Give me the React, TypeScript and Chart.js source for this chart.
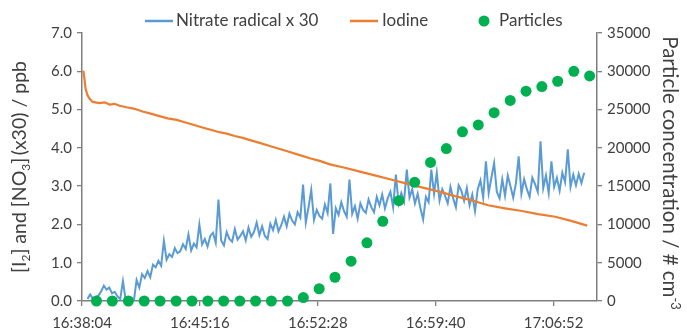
import React, { useEffect, useRef } from "react";
import { Chart, registerables } from "chart.js";

Chart.register(...registerables);

// Time axis: seconds after 16:38:04
const clockStart = 16 * 3600 + 38 * 60 + 4;
const xTickValues = [0, 432, 864, 1296, 1728]; // every 7 min 12 s
const xAxisMax = 1887;

// Nitrate radical x 30 (ppb), sampled every 10 s from t = 20 s
const nitrateStart = 20;
const nitrateStep = 10;
const nitrateValues = [
  0.05, 0.17, 0.06, 0.10, 0.14, 0.25, 0.40, 0.30, 0.35, 0.20,
  0.24, 0.12, 0.05, 0.52, 0.02, 0.00, 0.03, 0.00, 0.55, 0.35,
  0.70, 0.60, 0.78, 0.62, 0.95, 0.88, 1.05, 0.92, 1.57, 1.08,
  1.22, 1.15, 1.38, 1.25, 1.30, 1.48, 1.36, 1.74, 1.32, 1.50,
  1.40, 2.00, 1.48, 1.62, 1.42, 1.70, 1.78, 1.52, 2.65, 1.58,
  1.45, 1.80, 1.62, 1.55, 1.88, 1.60, 1.70, 1.82, 1.58, 1.92,
  1.68, 1.80, 2.05, 1.72, 1.95, 1.70, 1.62, 2.02, 1.85, 2.12,
  1.82, 1.98, 2.20, 1.95, 2.28, 2.10, 2.00, 2.32, 2.18, 3.04,
  2.05, 2.45, 2.90, 2.12, 2.38, 2.22, 2.15, 2.52, 2.30, 3.07,
  1.75, 2.42, 2.25, 2.58, 2.35, 2.20, 3.17, 2.28, 2.48, 2.15,
  2.55, 2.38, 2.30, 2.65, 2.45, 2.32, 2.72, 2.50, 2.78, 2.42,
  2.68, 2.85, 2.45, 3.30, 2.55, 2.82, 2.60, 3.43, 2.70, 2.92,
  2.55, 2.80, 2.42, 2.13, 2.72, 2.58, 3.43, 2.80, 3.35, 2.62,
  2.92, 2.75, 2.55, 2.98, 2.68, 2.45, 3.02, 2.88, 2.62, 2.95,
  2.50, 2.78, 2.35, 2.92, 3.15, 2.70, 3.65, 2.82, 3.22, 3.60,
  2.85, 2.68, 3.18, 2.75, 3.28, 3.00, 2.70, 3.08, 3.78, 2.80,
  3.18, 2.92, 2.72, 3.22, 3.05, 2.85, 4.17, 2.95, 3.28, 2.82,
  3.65, 2.98, 3.22, 2.88, 3.35, 3.10, 3.96, 2.98, 3.30, 3.02,
  3.32, 3.08, 3.35,
];

// Iodine (ppb)
const iodineTimes = [
  5, 9, 13, 20, 28, 39, 64, 83, 101, 119, 138, 163, 193, 222, 248, 284, 314,
  347, 376, 405, 438, 468, 497, 530, 560, 589, 622, 651, 688, 725, 761, 798,
  835, 871, 908, 963, 1018, 1073, 1128, 1183, 1238, 1312, 1367, 1422, 1488,
  1550, 1612, 1671, 1734, 1789, 1851,
];
const iodineValues = [
  6.02, 5.8, 5.55, 5.38, 5.28, 5.2, 5.17, 5.19, 5.13, 5.15, 5.1, 5.06, 5.02,
  4.95, 4.9, 4.83, 4.77, 4.73, 4.67, 4.61, 4.54, 4.48, 4.42, 4.37, 4.31, 4.26,
  4.19, 4.13, 4.05, 3.97, 3.89, 3.81, 3.73, 3.66, 3.57, 3.48, 3.38, 3.28, 3.18,
  3.08, 2.98, 2.85, 2.74, 2.64, 2.5, 2.42, 2.35, 2.27, 2.2, 2.1, 1.97,
];

// Particles (# cm-3)
const particleTimes = [
  53, 111, 170, 228, 286, 345, 403, 461, 519, 578, 636, 694, 753, 811, 869,
  927, 986, 1044, 1102, 1161, 1219, 1277, 1335, 1394, 1452, 1510, 1569, 1627,
  1685, 1743, 1802, 1860,
];
const particleValues = [
  0, 0, 0, 0, 0, 0, 0, 0, 0, 0, 0, 0, 0, 450, 1600, 3100, 5200, 7600, 10400,
  13100, 15500, 18100, 19900, 22100, 23000, 24600, 26200, 27400, 28000, 28700,
  30000, 29400,
];

const legendLabels = ["Nitrate radical x 30", "Iodine", "Particles"];

const BLUE = "#5B9BD5";
const ORANGE = "#ED7D31";
const GREEN = "#00B050";
const TEXT = "#404040";
const AXIS = "#7F7F7F";
const FONT = "Lato";

function clock(sec: number) {
  const t = clockStart + Math.round(sec);
  const h = Math.floor(t / 3600);
  const m = Math.floor((t % 3600) / 60);
  const s = t % 60;
  const p = (n: number) => String(n).padStart(2, "0");
  return `${h}:${p(m)}:${p(s)}`;
}

type Seg = { text: string; mode?: "sub" | "sup" };

function drawRich(ctx: CanvasRenderingContext2D, segs: Seg[], size: number) {
  const small = Math.round(size * 0.62);
  let total = 0;
  const widths = segs.map((s) => {
    ctx.font = `${s.mode ? small : size}px ${FONT}`;
    const w = ctx.measureText(s.text).width;
    total += w;
    return w;
  });
  let x = -total / 2;
  ctx.textBaseline = "alphabetic";
  ctx.textAlign = "left";
  segs.forEach((s, i) => {
    ctx.font = `${s.mode ? small : size}px ${FONT}`;
    let dy = size * 0.35;
    if (s.mode === "sub") dy += size * 0.22;
    if (s.mode === "sup") dy -= size * 0.38;
    ctx.fillText(s.text, x, dy);
    x += widths[i];
  });
}

const decor = {
  id: "decor",
  afterDraw(chart: any) {
    const ctx: CanvasRenderingContext2D = chart.ctx;
    const area = chart.chartArea;
    ctx.save();
    ctx.fillStyle = TEXT;
    // legend
    const ly = 21;
    ctx.font = `17px ${FONT}`;
    ctx.textBaseline = "middle";
    ctx.textAlign = "left";
    ctx.lineWidth = 2.5;
    ctx.strokeStyle = BLUE;
    ctx.beginPath();
    ctx.moveTo(145, ly);
    ctx.lineTo(173, ly);
    ctx.stroke();
    ctx.fillText(legendLabels[0], 176, ly);
    ctx.strokeStyle = ORANGE;
    ctx.beginPath();
    ctx.moveTo(350, ly);
    ctx.lineTo(378, ly);
    ctx.stroke();
    ctx.fillText(legendLabels[1], 382, ly);
    ctx.fillStyle = GREEN;
    ctx.beginPath();
    ctx.arc(484, ly, 5.5, 0, Math.PI * 2);
    ctx.fill();
    ctx.fillStyle = TEXT;
    ctx.fillText(legendLabels[2], 499, ly);

    const cy = (area.top + area.bottom) / 2;
    // left title
    ctx.save();
    ctx.translate(19, cy);
    ctx.rotate(-Math.PI / 2);
    drawRich(
      ctx,
      [
        { text: "[I" },
        { text: "2", mode: "sub" },
        { text: "] and [NO" },
        { text: "3", mode: "sub" },
        { text: "]\u2009(x30) / ppb" },
      ],
      19.5
    );
    ctx.restore();
    // right title
    ctx.save();
    ctx.translate(670, cy + 6);
    ctx.rotate(Math.PI / 2);
    drawRich(
      ctx,
      [{ text: "Particle concentration / # cm" }, { text: "-3", mode: "sup" }],
      20.5
    );
    ctx.restore();
    ctx.restore();
  },
};

export default function App() {
  const ref = useRef<HTMLCanvasElement | null>(null);
  useEffect(() => {
    if (!ref.current) return;
    const nitrateData = nitrateValues.map((v, i) => ({
      x: nitrateStart + i * nitrateStep,
      y: v,
    }));
    const iodineData = iodineTimes.map((t, i) => ({ x: t, y: iodineValues[i] }));
    const particleData = particleTimes.map((t, i) => ({
      x: t,
      y: particleValues[i],
    }));
    const tickFont = { family: FONT, size: 15 };
    const chart = new Chart(ref.current, {
      type: "line",
      data: {
        datasets: [
          {
            label: legendLabels[2],
            data: particleData,
            yAxisID: "y2",
            showLine: false,
            pointRadius: 5.5,
            pointBackgroundColor: GREEN,
            pointBorderWidth: 0,
            backgroundColor: GREEN,
            borderColor: GREEN,
            clip: false,
          } as any,
          {
            label: legendLabels[1],
            data: iodineData,
            yAxisID: "y",
            borderColor: ORANGE,
            borderWidth: 2.2,
            pointRadius: 0,
            tension: 0,
          },
          {
            label: legendLabels[0],
            data: nitrateData,
            yAxisID: "y",
            borderColor: BLUE,
            borderWidth: 2,
            pointRadius: 0,
            tension: 0,
          },
        ],
      },
      options: {
        responsive: false,
        maintainAspectRatio: false,
        devicePixelRatio: 1,
        animation: false,
        events: [],
        layout: { padding: { top: 33, left: 0, right: 0, bottom: 0 } },
        plugins: { legend: { display: false }, tooltip: { enabled: false } },
        scales: {
          x: {
            type: "linear",
            min: 0,
            max: xAxisMax,
            afterFit: (s: any) => {
              s.height = 32;
            },
            afterBuildTicks: (s: any) => {
              s.ticks = xTickValues.map((v) => ({ value: v }));
            },
            ticks: {
              callback: (v: any) => clock(Number(v)),
              font: tickFont,
              color: TEXT,
              padding: 8,
              maxRotation: 0,
              autoSkip: false,
            },
            grid: {
              drawOnChartArea: false,
              tickLength: 5,
              color: AXIS,
              lineWidth: 1.3,
            },
            border: { color: AXIS, width: 1.5 },
          },
          y: {
            position: "left",
            min: 0,
            max: 7,
            afterFit: (s: any) => {
              s.width = 82;
            },
            ticks: {
              stepSize: 1,
              callback: (v: any) => Number(v).toFixed(1),
              font: tickFont,
              color: TEXT,
              padding: 5,
            },
            grid: {
              drawOnChartArea: false,
              tickLength: 5,
              color: AXIS,
              lineWidth: 1.3,
            },
            border: { color: AXIS, width: 1.5 },
          },
          y2: {
            position: "right",
            min: 0,
            max: 35000,
            afterFit: (s: any) => {
              s.width = 90;
            },
            ticks: {
              stepSize: 5000,
              callback: (v: any) => String(v),
              font: tickFont,
              color: TEXT,
              padding: 5,
            },
            grid: {
              drawOnChartArea: false,
              tickLength: 5,
              color: AXIS,
              lineWidth: 1.3,
            },
            border: { color: AXIS, width: 1.5 },
          },
        },
      },
      plugins: [decor],
    });
    return () => chart.destroy();
  }, []);
  return (
    <div
      style={{
        position: "absolute",
        left: 0,
        top: 0,
        width: 687,
        height: 333,
        background: "#fff",
      }}
    >
      <canvas
        ref={ref}
        width={687}
        height={333}
        style={{ display: "block", width: 687, height: 333 }}
      />
    </div>
  );
}
